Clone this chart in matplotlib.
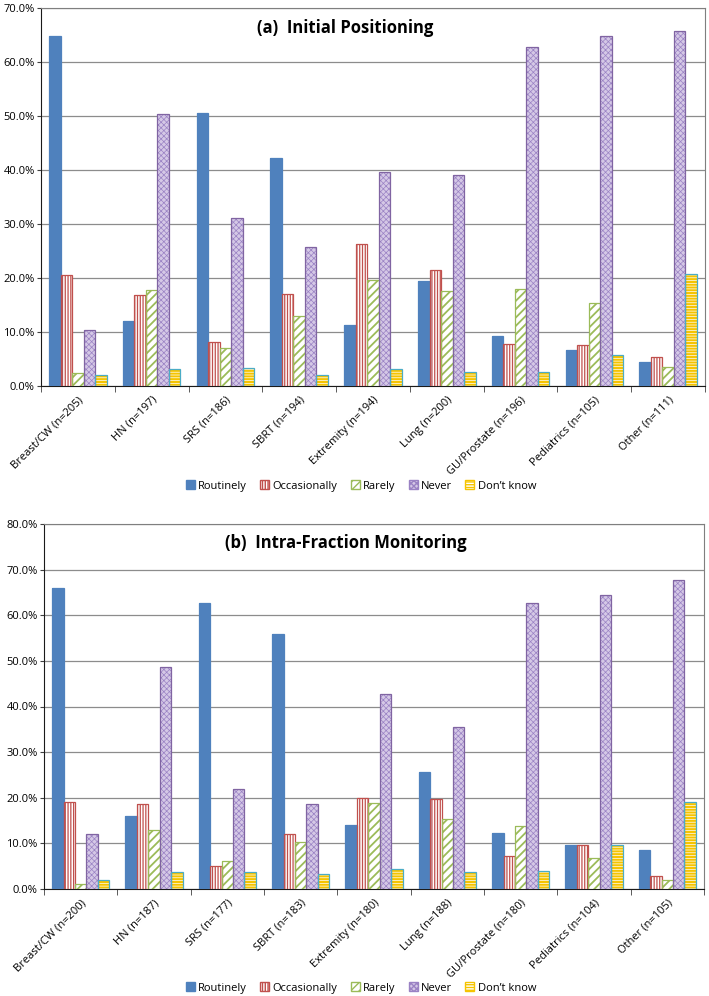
import numpy as np
import matplotlib.pyplot as plt
from matplotlib.patches import Patch

plt.rcParams['font.family'] = ['Open Sans', 'DejaVu Sans']

# --- Donnees ---
series = ["Routinely", "Occasionally", "Rarely", "Never", "Don\u2019t know"]

cats_a = ["Breast/CW (n=205)", "HN (n=197)", "SRS (n=186)", "SBRT (n=194)",
          "Extremity (n=194)", "Lung (n=200)", "GU/Prostate (n=196)",
          "Pediatrics (n=105)", "Other (n=111)"]
routinely_a    = [64.8, 12.1, 50.5, 42.2, 11.3, 19.4, 9.2, 6.7, 4.5]
occasionally_a = [20.5, 16.8, 8.1, 17.0, 26.3, 21.5, 7.7, 7.6, 5.4]
rarely_a       = [2.4, 17.8, 7.0, 13.0, 19.7, 17.5, 18.0, 15.3, 3.6]
never_a        = [10.3, 50.3, 31.2, 25.8, 39.7, 39.0, 62.8, 64.8, 65.8]
dontknow_a     = [2.0, 3.1, 3.3, 2.1, 3.1, 2.5, 2.5, 5.7, 20.7]

cats_b = ["Breast/CW (n=200)", "HN (n=187)", "SRS (n=177)", "SBRT (n=183)",
          "Extremity (n=180)", "Lung (n=188)", "GU/Prostate (n=180)",
          "Pediatrics (n=104)", "Other (n=105)"]
routinely_b    = [66.0, 16.0, 62.7, 55.8, 14.0, 25.6, 12.2, 9.6, 8.6]
occasionally_b = [19.0, 18.7, 5.1, 12.0, 20.0, 19.7, 7.2, 9.6, 2.9]
rarely_b       = [1.1, 12.9, 6.2, 10.4, 18.9, 15.4, 13.9, 6.7, 1.9]
never_b        = [12.0, 48.7, 21.9, 18.6, 42.8, 35.6, 62.7, 64.5, 67.7]
dontknow_b     = [2.0, 3.7, 3.8, 3.3, 4.4, 3.7, 3.9, 9.6, 19.0]

# (face, hatch, hatch colour, hatch lw, bord)
styles = [
    ('#4F81BD', '',        '#4F81BD', 0.5, '#4F81BD'),
    ('white',   '||||||',  '#C0504D', 0.9, '#C0504D'),
    ('white',   '////',    '#9BBB59', 1.3, '#9BBB59'),
    ('#D5C8E6', 'xxxxxx',  '#9A82C4', 0.5, '#8064A2'),
    ('white',   '------',  '#F5C400', 1.5, '#4BACC6'),
]

w = 0.156

def panel(ax, cats, data, ymax, titre):
    x = np.arange(len(cats))
    for k, (vals, st) in enumerate(zip(data, styles)):
        face, hatch, hcol, hlw, bord = st
        pos = x + (k - 2) * w
        with plt.rc_context({'hatch.linewidth': hlw}):
            ax.bar(pos, vals, w, color=face, hatch=hatch, edgecolor=hcol,
                   linewidth=0, zorder=3)
        ax.bar(pos, vals, w, fill=False, edgecolor=bord, linewidth=0.9, zorder=4)
    ax.set_xlim(-0.5, len(cats) - 0.5)
    ax.set_ylim(0, ymax)
    ticks = np.arange(0, ymax + 1, 10)
    ax.set_yticks(ticks)
    ax.set_yticklabels([f'{t:.1f}%' for t in ticks], fontsize=8)
    ax.set_xticks(x)
    ax.set_xticklabels(cats, rotation=45, ha='right', rotation_mode='anchor',
                       fontsize=8)
    ax.tick_params(axis='x', length=0, pad=6)
    ax.set_xticks(np.arange(-0.5, len(cats)), minor=True)
    ax.tick_params(axis='x', which='minor', length=4, direction='out', color='#404040')
    ax.tick_params(axis='y', length=3, direction='out', color='#404040', pad=1.5)
    ax.yaxis.grid(True, color='#8C8C8C', linewidth=0.9, zorder=0)
    ax.set_axisbelow(True)
    for s in ['top', 'right']:
        ax.spines[s].set_color('#7F7F7F')
    for s in ['left', 'bottom']:
        ax.spines[s].set_color('#1A1A1A')
    ax.text(0.458, 0.972, titre, transform=ax.transAxes, ha='center', va='top',
            fontsize=12, fontweight='bold')

fig = plt.figure(figsize=(7.09, 9.96), dpi=100)
ax_a = fig.add_axes([41/709, 1 - 386/996, 664/709, 378/996])
ax_b = fig.add_axes([44/709, 1 - 889/996, 660/709, 365/996])

panel(ax_a, cats_a, [routinely_a, occasionally_a, rarely_a, never_a, dontknow_a],
      70, '(a)  Initial Positioning')
panel(ax_b, cats_b, [routinely_b, occasionally_b, rarely_b, never_b, dontknow_b],
      80, '(b)  Intra-Fraction Monitoring')

handles = [Patch(facecolor=f, hatch=h, edgecolor=hc, label=s)
           for s, (f, h, hc, hl, b) in zip(series, styles)]
for yc in [486, 988]:
    fig.legend(handles=handles, loc='center', bbox_to_anchor=(361/709, 1 - yc/996),
               ncol=5, frameon=False, fontsize=8, handlelength=0.8,
               handleheight=0.8, handletextpad=0.3, columnspacing=1.2)

plt.savefig('out.png', dpi=100)
